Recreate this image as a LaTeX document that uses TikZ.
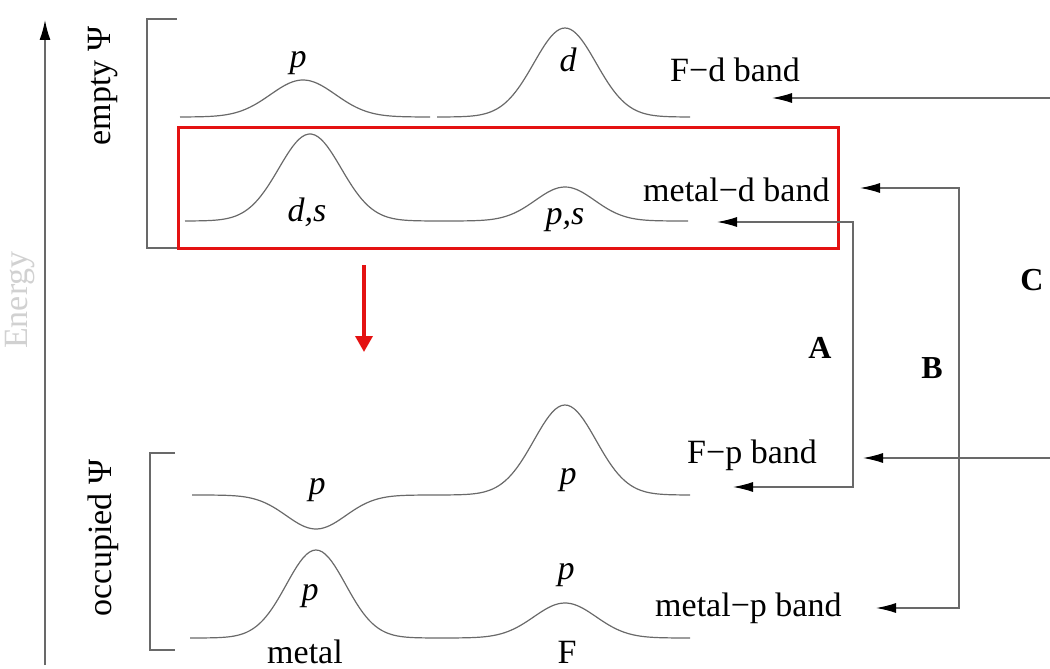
\documentclass[tikz,border=0pt]{standalone}
\usepackage{fontspec}
\setmainfont{Liberation Serif}
\usetikzlibrary{arrows.meta, positioning}
\definecolor{boxRed}{RGB}{228,18,18}
\definecolor{lineGray}{RGB}{105,105,105}
\tikzset{
  bd/curve/.style={draw=lineGray, line width=1.2pt},
  bd/bracket/.style={draw=lineGray, line width=1.3pt},
  bd/lbl/.style={font=\fontsize{34}{40}\selectfont, inner sep=0pt},
  bd/orb/.style={font=\fontsize{34}{40}\selectfont\itshape, inner sep=0pt},
  bd/tag/.style={font=\fontsize{32}{38}\selectfont\bfseries, inner sep=0pt},
  bd/pair/.style={{Latex[length=20pt,width=10pt,black]}-{Latex[length=20pt,width=10pt,black]},
    draw=lineGray, line width=1.3pt},
  bd/axis/.style={-{Latex[length=20pt,width=11pt,black]}, draw=lineGray,
    line width=1.6pt},
  bd/box/.style={draw=boxRed, line width=3pt, minimum width=660pt,
    minimum height=121pt, inner sep=0pt},
  bd/shift/.style={-{Triangle[length=16pt,width=17pt]}, draw=boxRed,
    line width=3.5pt}
}

\begin{document}
\begin{tikzpicture}[x=1pt, y=-1pt,
    declare function={bump(\t,\c,\w)=exp(-((\t-\c)/\w)*((\t-\c)/\w));}]
  \useasboundingbox (0,0) rectangle (1050,669);

  % energy axis
  \coordinate (axBot) at (45,665);
  \coordinate (axTop) at (45,20);
  \draw[bd/axis] (axBot) -- (axTop);
  \node[bd/lbl, rotate=90, text=black!18] (enLbl) at (20,300) {Energy};

  % brackets
  \draw[bd/bracket] (177,19) -- (147,19) -- (147,248) -- (178,248);
  \draw[bd/bracket] (175,453) -- (150,453) -- (150,650) -- (175,650);
  \node[bd/lbl, rotate=90] (emptyLbl) at (103,86) {empty Ψ};
  \node[bd/lbl, rotate=90] (occLbl) at (103,538) {occupied Ψ};

  % empty states
  \draw[bd/curve] plot[domain=180:430, samples=90]
    (\x, {117-37*bump(\x,303,46)});
  \draw[bd/curve] plot[domain=437:690, samples=90]
    (\x, {117-89*bump(\x,565,44)});
  \draw[bd/curve] plot[domain=185:688, samples=160]
    (\x, {221-87*bump(\x,310,44)-34*bump(\x,565,42)});
  \node[bd/orb] (pTop) at (298,63) {p};
  \node[bd/orb] (dTop) at (568,60) {d};
  \node[bd/orb] (dsMid) at (307,212) {d,s};
  \node[bd/orb] (psMid) at (565,220) {p,s};

  % occupied states
  \draw[bd/curve] plot[domain=192:690, samples=160]
    (\x, {495+34*bump(\x,316,42)-90*bump(\x,565,44)});
  \draw[bd/curve] plot[domain=190:690, samples=160]
    (\x, {638-88*bump(\x,316,42)-35*bump(\x,565,44)});
  \node[bd/orb] (pFpL) at (317,490) {p};
  \node[bd/orb] (pFpR) at (568,480) {p};
  \node[bd/orb] (pMpL) at (310,596) {p};
  \node[bd/orb] (pMpR) at (566,575) {p};
  \node[bd/lbl] (metalLbl) at (305,652) {metal};
  \node[bd/lbl] (fLbl) at (567,652) {F};

  % band names
  \node[bd/lbl, anchor=west] (fdBand) at (670,70) {F−d band};
  \node[bd/lbl, anchor=west] (mdBand) at (643,190) {metal−d band};
  \node[bd/lbl, anchor=west] (fpBand) at (687,455) {F−p band};
  \node[bd/lbl, anchor=west] (mpBand) at (655,608) {metal−p band};

  % selected band and shift
  \node[bd/box] (selBox) at (508,187.5) {};
  \coordinate (redTop) at (364,265);
  \coordinate (redTip) at (364,352);
  \draw[bd/shift] (redTop) -- (redTip);

  % transitions
  \coordinate (aTopTip) at (717,222);
  \coordinate (aBotTip) at (733,487);
  \coordinate (bTopTip) at (860,188);
  \coordinate (bBotTip) at (876,608);
  \coordinate (cTopTip) at (772,98);
  \coordinate (cBotTip) at (863,458);
  \draw[bd/pair] (aTopTip) -- (853,222) -- (853,487) -- (aBotTip);
  \draw[bd/pair] (bTopTip) -- (959,188) -- (959,608) -- (bBotTip);
  \draw[bd/pair] (cTopTip) -- (1075,98) -- (1075,458) -- (cBotTip);
  \node[bd/tag] (tagA) at (820,348) {A};
  \node[bd/tag] (tagB) at (932,368) {B};
  \node[bd/tag] (tagC) at (1032,280) {C};
\end{tikzpicture}
\end{document}
